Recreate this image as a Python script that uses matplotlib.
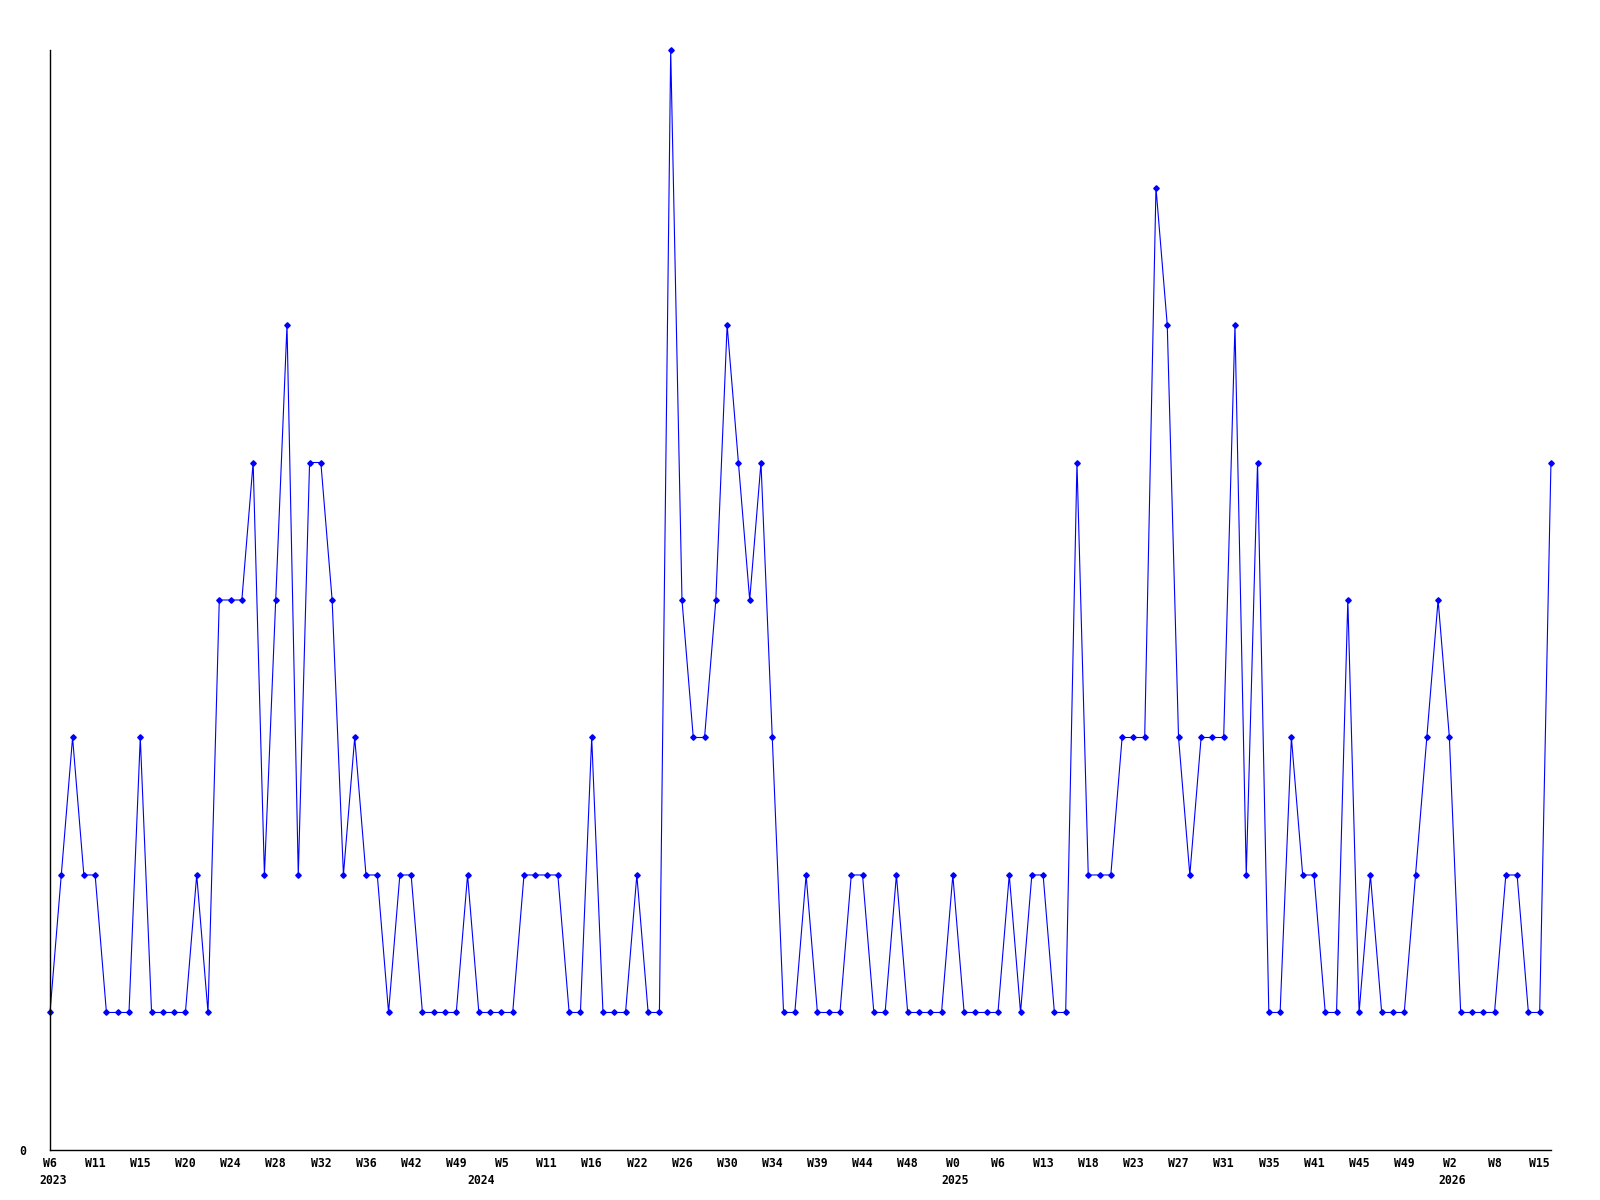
import matplotlib
matplotlib.use('Agg')
import matplotlib.pyplot as plt
import numpy as np


# weekly counts, one value per sample
counts = [
    1, 2, 3, 2, 2, 1, 1, 1, 3, 1,
    1, 1, 1, 2, 1, 4, 4, 4, 5, 2,
    4, 6, 2, 5, 5, 4, 2, 3, 2, 2,
    1, 2, 2, 1, 1, 1, 1, 2, 1, 1,
    1, 1, 2, 2, 2, 2, 1, 1, 3, 1,
    1, 1, 2, 1, 1, 8, 4, 3, 3, 4,
    6, 5, 4, 5, 3, 1, 1, 2, 1, 1,
    1, 2, 2, 1, 1, 2, 1, 1, 1, 1,
    2, 1, 1, 1, 1, 2, 1, 2, 2, 1,
    1, 5, 2, 2, 2, 3, 3, 3, 7, 6,
    3, 2, 3, 3, 3, 6, 2, 5, 1, 1,
    3, 2, 2, 1, 1, 4, 1, 2, 1, 1,
    1, 2, 3, 4, 3, 1, 1, 1, 1, 2,
    2, 1, 1, 5,
]

week_labels = [
    'W6', 'W11', 'W15', 'W20', 'W24', 'W28', 'W32', 'W36', 'W42', 'W49',
    'W5', 'W11', 'W16', 'W22', 'W26', 'W30', 'W34', 'W39', 'W44', 'W48',
    'W0', 'W6', 'W13', 'W18', 'W23', 'W27', 'W31', 'W35', 'W41', 'W45',
    'W49', 'W2', 'W8', 'W15',
]

# year label -> sample index it sits under
year_names = ['2023', '2024', '2025', '2026']
year_at = [0, 38, 80, 124]


def main():
    x = np.arange(len(counts))
    font = dict(family='DejaVu Sans Mono', weight='bold', size=8.3)

    fig = plt.figure(figsize=(16, 12), dpi=100)
    ax = fig.add_axes([0.03125, 0.0417, 0.9381, 0.9166])

    ax.plot(x, counts, color='#0000ff', lw=0.8, marker='D', ms=2.8,
            mec='#0000ff', mfc='#0000ff', clip_on=False)

    ax.set_xlim(0, len(counts) - 1)
    ax.set_ylim(0, 8)

    for s in ['top', 'right']:
        ax.spines[s].set_visible(False)
    ax.spines['left'].set_linewidth(1.0)
    ax.spines['bottom'].set_linewidth(1.0)

    ax.set_yticks([0])
    ax.set_yticklabels(['0'], fontdict=font)
    ax.tick_params(axis='y', length=0, pad=17)

    ticks = np.arange(0, len(counts), 4)[:len(week_labels)]
    ax.set_xticks(ticks)
    ax.set_xticklabels(week_labels, fontdict=font)
    ax.tick_params(axis='x', length=0, pad=5)

    for name, i in zip(year_names, year_at):
        ax.annotate(name, xy=(i, 0), xycoords='data', xytext=(-8, -17),
                    textcoords='offset points', ha='left', va='top', **font)

    fig.savefig('out.png', dpi=100)


if __name__ == '__main__':
    main()
